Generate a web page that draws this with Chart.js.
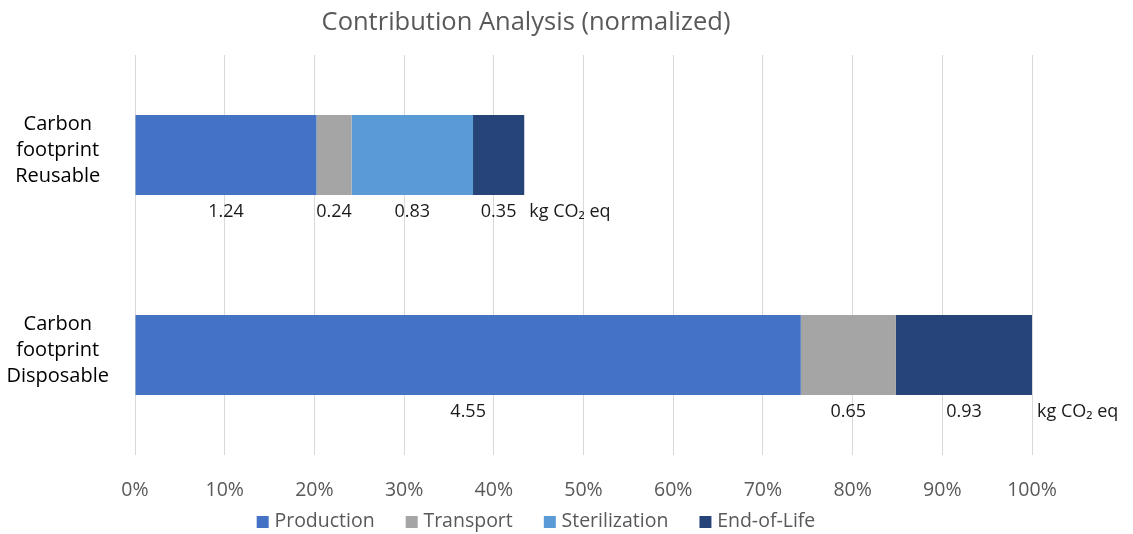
<!DOCTYPE html>
<html>
<head>
<meta charset="utf-8">
<style>
  html, body { margin: 0; padding: 0; background: #ffffff; }
  #wrap { width: 1133px; height: 534px; }
</style>
<script src="https://cdn.jsdelivr.net/npm/chart.js@4.4.1/dist/chart.umd.min.js"></script>
</head>
<body>
<div id="wrap"><canvas id="c" width="1133" height="534"></canvas></div>
<script>
// ---- data (kg CO2 eq) ----
const categories = [["Carbon", "footprint", "Reusable"], ["Carbon", "footprint", "Disposable"]];
const seriesNames = ["Production", "Transport", "Sterilization", "End-of-Life"];
const production = [1.24, 4.55];
const transport = [0.24, 0.65];
const sterilization = [0.83, null];
const endOfLife = [0.35, 0.93];
const unitLabel = "kg CO\u2082 eq";
const titleText = "Contribution Analysis (normalized)";

const seriesValues = [production, transport, sterilization, endOfLife];
const seriesColors = ["#4472C4", "#A5A5A5", "#5B9BD5", "#264478"];

// normalize to the disposable total (= 100 %)
const refTotal = seriesValues.reduce((s, arr) => s + (arr[1] || 0), 0);
const toPct = v => (v === null ? null : v / refTotal * 100);

const FONT = "'Open Sans', 'Liberation Sans', sans-serif";
const LEGEND_FONT = 19.5;
const MARKER_W = 28;

// legend marker: a 12px square placed inside a wider transparent image
function makeMarker(color) {
  const cv = document.createElement("canvas");
  cv.width = MARKER_W * 2;
  cv.height = 12;
  const c = cv.getContext("2d");
  c.fillStyle = color;
  const right = MARKER_W * 1.5 + LEGEND_FONT / 2 - 6;
  c.fillRect(Math.round(right - 12), 0, 12, 12);
  return cv;
}
const markers = seriesColors.map(makeMarker);

const valueLabels = {
  id: "valueLabels",
  afterDatasetsDraw(chart) {
    const ctx = chart.ctx;
    ctx.save();
    ctx.font = "18px " + FONT;
    ctx.fillStyle = "#1a1a1a";
    ctx.textBaseline = "middle";
    const ends = {};
    chart.data.datasets.forEach((ds, i) => {
      const meta = chart.getDatasetMeta(i);
      meta.data.forEach((bar, j) => {
        const raw = seriesValues[i][j];
        if (raw === null || raw === undefined) return;
        const left = Math.min(bar.base, bar.x), right = Math.max(bar.base, bar.x);
        const y = bar.y + bar.height / 2 + 17;
        ctx.textAlign = "center";
        ctx.fillText(raw.toFixed(2), (left + right) / 2, y);
        if (!ends[j] || right > ends[j].x) ends[j] = { x: right, y: y };
      });
    });
    Object.values(ends).forEach(e => {
      ctx.textAlign = "left";
      ctx.fillText(unitLabel, e.x + 5, e.y);
    });
    ctx.restore();
  }
};

new Chart(document.getElementById("c"), {
  type: "bar",
  data: {
    labels: categories,
    datasets: seriesNames.map((name, i) => ({
      label: name,
      data: seriesValues[i].map(toPct),
      backgroundColor: seriesColors[i],
      borderWidth: 0,
      categoryPercentage: 0.4,
      barPercentage: 1.0
    }))
  },
  options: {
    responsive: false,
    animation: false,
    indexAxis: "y",
    layout: { padding: { left: 0, right: 81, top: 0, bottom: -7.5 } },
    plugins: {
      title: {
        display: true,
        text: titleText,
        color: "#595959",
        font: { family: FONT, size: 25.5, weight: "normal", lineHeight: 1.2 },
        padding: { top: 7, bottom: 17.4 }
      },
      legend: {
        position: "bottom",
        labels: {
          color: "#595959",
          font: { family: FONT, size: LEGEND_FONT },
          usePointStyle: true,
          pointStyleWidth: MARKER_W,
          boxHeight: 12,
          padding: 11,
          generateLabels(chart) {
            const items = Chart.defaults.plugins.legend.labels.generateLabels(chart);
            items.forEach((it, k) => { it.pointStyle = markers[it.datasetIndex != null ? it.datasetIndex : k]; });
            return items;
          }
        }
      },
      tooltip: { enabled: false }
    },
    scales: {
      x: {
        stacked: true,
        min: 0,
        max: 100,
        ticks: {
          stepSize: 10,
          color: "#595959",
          font: { family: FONT, size: 19.5 },
          padding: 24,
          callback: v => v + "%"
        },
        grid: { color: "#d9d9d9", drawTicks: false },
        border: { display: false },
        afterFit(scale) { scale.height = 46; scale.paddingLeft = 0; scale.paddingRight = 0; }
      },
      y: {
        stacked: true,
        ticks: {
          color: "#000000",
          font: { family: FONT, size: 20, lineHeight: 1.3 },
          crossAlign: "center",
          padding: 26,
          labelOffset: -5
        },
        grid: { display: false, drawTicks: false },
        border: { display: false },
        afterFit(scale) { scale.width = 135; scale.paddingTop = 0; scale.paddingBottom = 0; }
      },
      yRight: {
        type: "linear",
        position: "right",
        display: true,
        ticks: { display: false },
        grid: { display: false, drawTicks: false },
        border: { display: false },
        afterFit(scale) { scale.width = 20; scale.paddingTop = 0; scale.paddingBottom = 0; }
      }
    }
  },
  plugins: [valueLabels]
});
</script>
</body>
</html>
